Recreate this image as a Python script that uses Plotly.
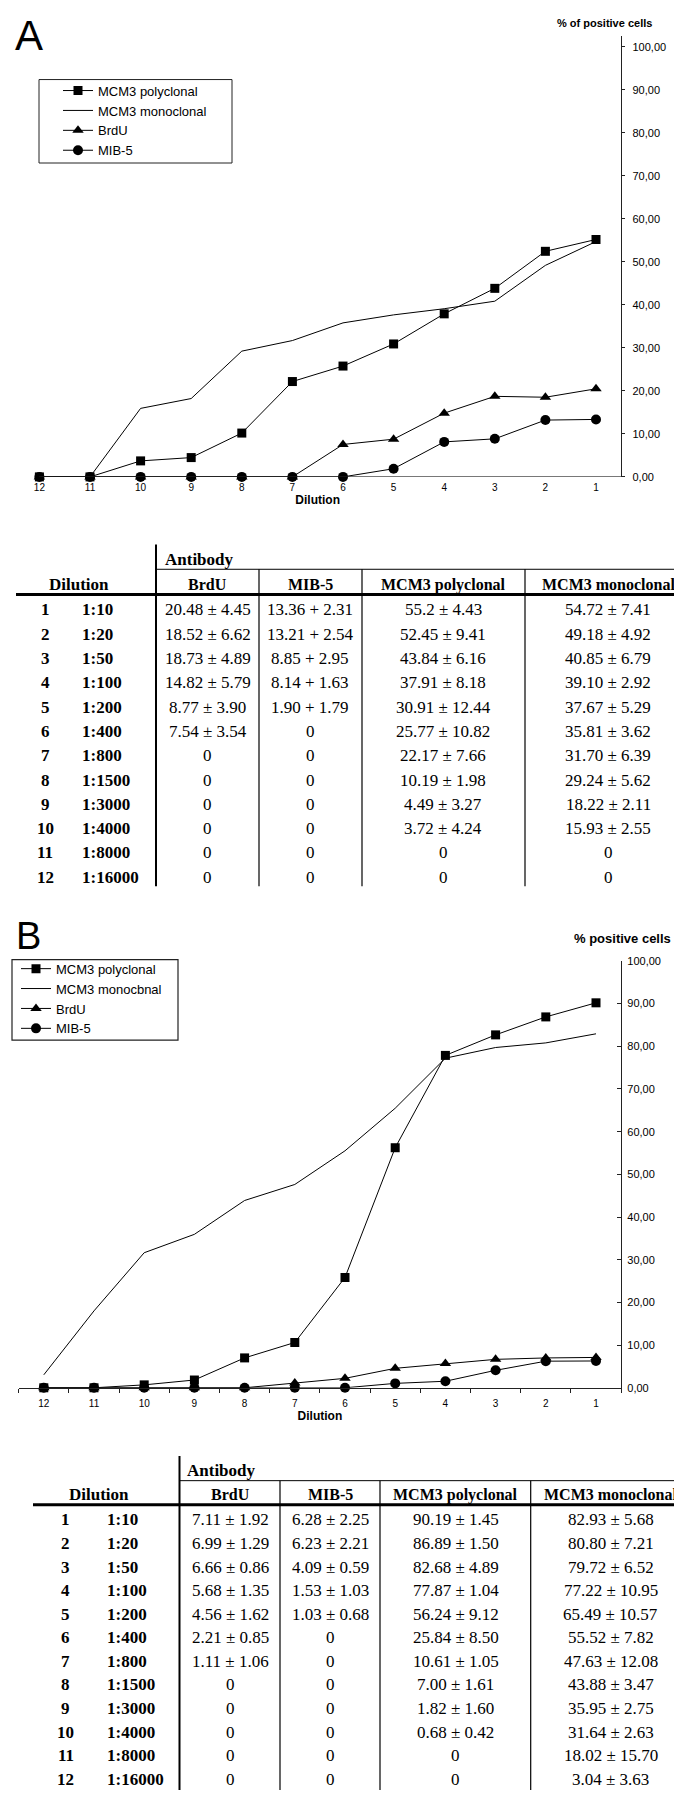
import plotly.graph_objects as go

W, H = 682, 1800

# ---------------- data ----------------
dilution_num = list(range(1, 13))
dilution_ratio = ["1:10", "1:20", "1:50", "1:100", "1:200", "1:400", "1:800",
                  "1:1500", "1:3000", "1:4000", "1:8000", "1:16000"]
antibody_cols = ["BrdU", "MIB-5", "MCM3 polyclonal", "MCM3 monoclonal"]
y_ticks = [0, 10, 20, 30, 40, 50, 60, 70, 80, 90, 100]

# Panel A means
a_polyclonal = [55.2, 52.45, 43.84, 37.91, 30.91, 25.77, 22.17, 10.19, 4.49, 3.72, 0, 0]
a_monoclonal = [54.72, 49.18, 40.85, 39.10, 37.67, 35.81, 31.70, 29.24, 18.22, 15.93, 0, 0]
a_brdu = [20.48, 18.52, 18.73, 14.82, 8.77, 7.54, 0, 0, 0, 0, 0, 0]
a_mib5 = [13.36, 13.21, 8.85, 8.14, 1.90, 0, 0, 0, 0, 0, 0, 0]

# Panel B means
b_polyclonal = [90.19, 86.89, 82.68, 77.87, 56.24, 25.84, 10.61, 7.00, 1.82, 0.68, 0, 0]
b_monoclonal = [82.93, 80.80, 79.72, 77.22, 65.49, 55.52, 47.63, 43.88, 35.95, 31.64, 18.02, 3.04]
b_brdu = [7.11, 6.99, 6.66, 5.68, 4.56, 2.21, 1.11, 0, 0, 0, 0, 0]
b_mib5 = [6.28, 6.23, 4.09, 1.53, 1.03, 0, 0, 0, 0, 0, 0, 0]

# Table cell texts
a_brdu_txt = ["20.48 ± 4.45", "18.52 ± 6.62", "18.73 ± 4.89", "14.82 ± 5.79", "8.77 ± 3.90",
              "7.54 ± 3.54", "0", "0", "0", "0", "0", "0"]
a_mib5_txt = ["13.36 + 2.31", "13.21 + 2.54", "8.85 + 2.95", "8.14 + 1.63", "1.90 + 1.79",
              "0", "0", "0", "0", "0", "0", "0"]
a_poly_txt = ["55.2 ± 4.43", "52.45 ± 9.41", "43.84 ± 6.16", "37.91 ± 8.18", "30.91 ± 12.44",
              "25.77 ± 10.82", "22.17 ± 7.66", "10.19 ± 1.98", "4.49 ± 3.27", "3.72 ± 4.24", "0", "0"]
a_mono_txt = ["54.72 ± 7.41", "49.18 ± 4.92", "40.85 ± 6.79", "39.10 ± 2.92", "37.67 ± 5.29",
              "35.81 ± 3.62", "31.70 ± 6.39", "29.24 ± 5.62", "18.22 ± 2.11", "15.93 ± 2.55", "0", "0"]

b_brdu_txt = ["7.11 ± 1.92", "6.99 ± 1.29", "6.66 ± 0.86", "5.68 ± 1.35", "4.56 ± 1.62",
              "2.21 ± 0.85", "1.11 ± 1.06", "0", "0", "0", "0", "0"]
b_mib5_txt = ["6.28 ± 2.25", "6.23 ± 2.21", "4.09 ± 0.59", "1.53 ± 1.03", "1.03 ± 0.68",
              "0", "0", "0", "0", "0", "0", "0"]
b_poly_txt = ["90.19 ± 1.45", "86.89 ± 1.50", "82.68 ± 4.89", "77.87 ± 1.04", "56.24 ± 9.12",
              "25.84 ± 8.50", "10.61 ± 1.05", "7.00 ± 1.61", "1.82 ± 1.60", "0.68 ± 0.42", "0", "0"]
b_mono_txt = ["82.93 ± 5.68", "80.80 ± 7.21", "79.72 ± 6.52", "77.22 ± 10.95", "65.49 ± 10.57",
              "55.52 ± 7.82", "47.63 ± 12.08", "43.88 ± 3.47", "35.95 ± 2.75", "31.64 ± 2.63",
              "18.02 ± 15.70", "3.04 ± 3.63"]

# ---------------- helpers ----------------
SANS = "Liberation Sans, Arial, sans-serif"
NARROW = "Liberation Sans Narrow, Liberation Sans, Arial, sans-serif"
SERIF = "Liberation Serif, Times New Roman, serif"


def px(x):
    return x / W


def py(y):
    return 1 - y / H


fig = go.Figure()

series_style = [
    # name key, symbol, size, mode, legend rank
    ("MCM3 monoclonal", None, 0, "lines", 2),
    ("BrdU", "triangle-up", 10, "lines+markers", 3),
    ("MIB-5", "circle", 10, "lines+markers", 4),
    ("MCM3 polyclonal", "square", 9, "lines+markers", 1),
]


def add_panel(xa, ya, legend, values, names):
    for (key, sym, size, mode, rank) in series_style:
        tr = dict(
            x=dilution_num, y=values[key], name=names[key], mode=mode,
            xaxis=xa, yaxis=ya, legend=legend, legendrank=rank,
            line=dict(color="black", width=1), cliponaxis=False,
        )
        if sym:
            tr["marker"] = dict(symbol=sym, size=size, color="black")
        fig.add_trace(go.Scatter(**tr))


add_panel("x", "y", "legend",
          {"MCM3 polyclonal": a_polyclonal, "MCM3 monoclonal": a_monoclonal,
           "BrdU": a_brdu, "MIB-5": a_mib5},
          {"MCM3 polyclonal": "MCM3 polyclonal", "MCM3 monoclonal": "MCM3 monoclonal",
           "BrdU": "BrdU", "MIB-5": "MIB-5"})
add_panel("x2", "y2", "legend2",
          {"MCM3 polyclonal": b_polyclonal, "MCM3 monoclonal": b_monoclonal,
           "BrdU": b_brdu, "MIB-5": b_mib5},
          {"MCM3 polyclonal": "MCM3 polyclonal", "MCM3 monoclonal": "MCM3 monocbnal",
           "BrdU": "BrdU", "MIB-5": "MIB-5"})

common_x = dict(
    range=[12.5, 0.5], tickmode="array", tickvals=dilution_num,
    ticktext=[str(v) for v in dilution_num], showgrid=False, zeroline=False,
    tickfont=dict(family=SANS, size=10, color="black"),
    title=dict(text="<b>Dilution</b>", font=dict(family=SANS, size=12, color="black")),
    fixedrange=True,
)
common_y = dict(
    tickmode="array", tickvals=y_ticks, tickformat=".2f", side="right",
    showgrid=False, zeroline=False, showline=True, linecolor="#222", linewidth=1,
    tickfont=dict(family=SANS, size=11, color="black"), tickcolor="#222",
    fixedrange=True,
)

legend_common = dict(xanchor="left", yanchor="top", bgcolor="rgba(0,0,0,0)",
                     borderwidth=0, font=dict(family=SANS, size=13, color="black"),
                     traceorder="normal", tracegroupgap=0, itemwidth=30)

fig.update_layout(
    width=W, height=H, margin=dict(l=0, r=0, t=0, b=0),
    paper_bgcolor="white", plot_bgcolor="white", separators=",.",
    xaxis=dict(common_x, domain=[px(6.1), px(613.3)], anchor="y", showline=False,
               ticks="", ticklabelstandoff=3, title_standoff=2),
    yaxis=dict(common_y, domain=[py(466), py(22.2)], range=[0, 102.5], anchor="x",
               ticks="outside", ticklen=3, ticklabelstandoff=5),
    xaxis2=dict(common_x, domain=[px(10.7), px(613.1)], anchor="y2", showline=True,
                linecolor="#222", linewidth=1, ticks="",
                minor=dict(tick0=0.5, dtick=1, ticks="outside", ticklen=4, tickcolor="#222"),
                ticklabelstandoff=6, title_standoff=2),
    yaxis2=dict(common_y, domain=[py(1383), py(953.3)], range=[0, 100], anchor="x2",
                ticks="inside", ticklen=4, ticklabelstandoff=3),
    legend=dict(legend_common, x=px(31), y=py(62), indentation=19),
    legend2=dict(legend_common, x=px(8), y=py(946)),
    showlegend=True,
)

shapes = []
annotations = []

# legend frames
shapes.append(dict(type="rect", xref="paper", yref="paper", x0=px(31), x1=px(224),
                   y0=py(150), y1=py(66), line=dict(color="#222", width=1),
                   fillcolor="white", layer="below"))
shapes.append(dict(type="rect", xref="paper", yref="paper", x0=px(4), x1=px(170),
                   y0=py(1033), y1=py(952), line=dict(color="#222", width=1.2),
                   fillcolor="white", layer="below"))

# x axis baseline for panel A (starts at the first category)
shapes.append(dict(type="line", xref="x", yref="y", x0=12, x1=0.5, y0=0, y1=0,
                   line=dict(color="#222", width=1)))

# panel letters and y titles
annotations += [
    dict(text="A", x=px(21), y=py(22), font=dict(family=SANS, size=42, color="black")),
    dict(text="B", x=px(20), y=py(928), font=dict(family=SANS, size=38, color="black")),
    dict(text="<b>% of positive cells</b>", x=px(596), y=py(9),
         font=dict(family=NARROW, size=11, color="black")),
    dict(text="<b>% positive cells</b>", x=px(614), y=py(931),
         font=dict(family=SANS, size=13, color="black")),
]


def add_table(g, cols_txt):
    def line(x0, y0, x1, y1, w):
        shapes.append(dict(type="line", xref="paper", yref="paper",
                           x0=px(x0), x1=px(x1), y0=py(y0), y1=py(y1),
                           line=dict(color="black", width=w)))

    line(g["vx"], g["vtop"], g["vx"], g["bottom"], 2)
    line(g["vx"], g["under"], W, g["under"], 1)
    line(g["thick_x0"], g["thick"], W, g["thick"], 3)
    for cx in g["col_lines"]:
        line(cx, g["under"], cx, g["bottom"], 1.2)

    def txt(t, x, y, size, anchor="center", bold=False):
        annotations.append(dict(text=f"<b>{t}</b>" if bold else t, x=px(x), y=py(y),
                                xanchor=anchor, yanchor="middle",
                                font=dict(family=SERIF, size=size, color="black")))

    txt("Antibody", g["ab_x"], g["ab_y"], 17, "left", True)
    txt("Dilution", g["dil_x"], g["head_y"], 17, "center", True)
    for name, cx in zip(antibody_cols, g["centers"]):
        txt(name, cx, g["head_y"], 16, "center", True)
    for i in range(12):
        y = g["row0"] + i * g["dy"]
        txt(str(dilution_num[i]), g["num_x"], y, 17, "center", True)
        txt(dilution_ratio[i], g["ratio_x"], y, 17, "left", True)
        for col, cx in zip(cols_txt, g["centers"]):
            txt(col[i], cx, y, 17, "center", False)


add_table(dict(vx=148, vtop=534, bottom=878, under=559, thick=584.5, thick_x0=8,
               col_lines=[251, 354, 517], ab_x=155, ab_y=549, dil_x=71, head_y=574.5,
               centers=[199.6, 302, 435, 600], row0=600, dy=24.45, num_x=37, ratio_x=71.5),
          [a_brdu_txt, a_mib5_txt, a_poly_txt, a_mono_txt])
add_table(dict(vx=171.5, vtop=1451.7, bottom=1788, under=1476.5, thick=1500.7, thick_x0=25,
               col_lines=[272, 372, 522.7], ab_x=177, ab_y=1466, dil_x=90.5, head_y=1490.7,
               centers=[222, 322, 447.6, 602.6], row0=1516, dy=23.73, num_x=58, ratio_x=97),
          [b_brdu_txt, b_mib5_txt, b_poly_txt, b_mono_txt])

for a in annotations:
    a.setdefault("xref", "paper")
    a.setdefault("yref", "paper")
    a.setdefault("showarrow", False)
    a.setdefault("xanchor", "center")
    a.setdefault("yanchor", "middle")

fig.update_layout(shapes=shapes, annotations=annotations)
fig.write_html("out.html")
